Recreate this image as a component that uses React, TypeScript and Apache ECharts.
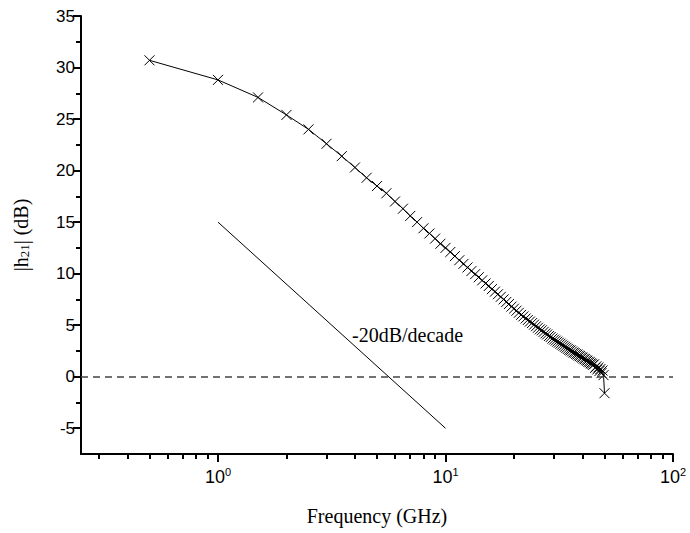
import React, { useEffect, useRef } from "react";
import * as echarts from "echarts";

const freqGHz = [
  0.5, 1.0, 1.5, 2.0, 2.5, 3.0, 3.5, 4.0, 4.5, 5.0,
  5.5, 6.0, 6.5, 7.0, 7.5, 8.0, 8.5, 9.0, 9.5, 10.0,
  10.5, 11.0, 11.5, 12.0, 12.5, 13.0, 13.5, 14.0, 14.5, 15.0,
  15.5, 16.0, 16.5, 17.0, 17.5, 18.0, 18.5, 19.0, 19.5, 20.0,
  20.5, 21.0, 21.5, 22.0, 22.5, 23.0, 23.5, 24.0, 24.5, 25.0,
  25.5, 26.0, 26.5, 27.0, 27.5, 28.0, 28.5, 29.0, 29.5, 30.0,
  30.5, 31.0, 31.5, 32.0, 32.5, 33.0, 33.5, 34.0, 34.5, 35.0,
  35.5, 36.0, 36.5, 37.0, 37.5, 38.0, 38.5, 39.0, 39.5, 40.0,
  40.5, 41.0, 41.5, 42.0, 42.5, 43.0, 43.5, 44.0, 44.5, 45.0,
  45.5, 46.0, 46.5, 47.0, 47.5, 48.0, 48.5, 49.0, 49.5, 50.0,
];

const h21dB = [
  30.7, 28.8, 27.1, 25.4, 24.0, 22.6, 21.4, 20.3, 19.3, 18.5,
  17.8, 17.0, 16.3, 15.6, 15.0, 14.4, 13.9, 13.4, 12.9, 12.5,
  12.1, 11.7, 11.3, 10.95, 10.6, 10.25, 9.95, 9.65, 9.35, 9.05,
  8.8, 8.5, 8.25, 8.0, 7.75, 7.5, 7.25, 7.05, 6.8, 6.6,
  6.4, 6.2, 6.0, 5.85, 5.65, 5.5, 5.35, 5.2, 5.05, 4.9,
  4.75, 4.6, 4.5, 4.35, 4.2, 4.1, 3.95, 3.85, 3.7, 3.6,
  3.5, 3.4, 3.3, 3.2, 3.1, 3.0, 2.9, 2.8, 2.7, 2.6,
  2.55, 2.45, 2.35, 2.3, 2.2, 2.15, 2.05, 2.0, 1.9, 1.85,
  1.75, 1.7, 1.6, 1.55, 1.45, 1.4, 1.3, 1.25, 1.15, 1.2,
  0.85, 1.0, 0.7, 0.9, 0.55, 0.75, 0.35, 0.6, 0.15, -1.6,
];

// -20 dB/decade reference line endpoints
const slopeFreq = [1, 10];
const slopeDB = [15, -5];

const xMajorTicks = [1, 10, 100];
const xMinorTicks = [0.3, 0.4, 0.5, 0.6, 0.7, 0.8, 0.9, 2, 3, 4, 5, 6, 7, 8, 9, 20, 30, 40, 50, 60, 70, 80, 90];
const yMajorTicks = [-5, 0, 5, 10, 15, 20, 25, 30, 35];
const yMinorTicks = [-2.5, 2.5, 7.5, 12.5, 17.5, 22.5, 27.5, 32.5];

const X_MIN = 0.25;
const X_MAX = 100;
const Y_MIN = -7.5;
const Y_MAX = 35;

const SANS = "'Liberation Sans', Arial, sans-serif";
const SERIF = "'Liberation Serif', 'Times New Roman', serif";

export default function App() {
  const ref = useRef<HTMLDivElement>(null);

  useEffect(() => {
    if (!ref.current) return;
    const chart = echarts.init(ref.current, undefined, { renderer: "svg" });
    const axisLine = { show: true, onZero: false, lineStyle: { color: "#000", width: 2 } };

    const option: any = {
      animation: false,
      backgroundColor: "#fff",
      grid: { left: 81, right: 17, top: 16, bottom: 79 },
      xAxis: [
        {
          type: "log",
          logBase: 10,
          min: X_MIN,
          max: X_MAX,
          position: "bottom",
          name: "Frequency (GHz)",
          nameLocation: "middle",
          nameGap: 52,
          nameTextStyle: { fontFamily: SERIF, fontSize: 20, color: "#000" },
          axisLine,
          axisTick: { show: true, inside: false, length: 8, customValues: xMajorTicks, lineStyle: { color: "#000", width: 2 } },
          axisLabel: {
            customValues: xMajorTicks,
            margin: 12,
            formatter: (v: number) => "{b|10}{sup|" + Math.round(Math.log10(v)) + "}",
            rich: {
              b: { fontFamily: SANS, fontSize: 18, color: "#000" },
              sup: { fontFamily: SANS, fontSize: 11, color: "#000", verticalAlign: "top", padding: [0, 0, 10, 0] },
            },
          },
          splitLine: { show: false },
        },
        {
          type: "log",
          logBase: 10,
          min: X_MIN,
          max: X_MAX,
          position: "bottom",
          axisLine: { show: false, onZero: false },
          axisTick: { show: true, length: 5, customValues: xMinorTicks, lineStyle: { color: "#000", width: 2 } },
          axisLabel: { show: false },
          splitLine: { show: false },
        },
      ],
      yAxis: [
        {
          type: "value",
          min: Y_MIN,
          max: Y_MAX,
          position: "left",
          name: "|h{sub|21}| (dB)",
          nameLocation: "middle",
          nameGap: 50,
          nameTextStyle: {
            fontFamily: SERIF,
            fontSize: 20,
            color: "#000",
            rich: { sub: { fontFamily: SERIF, fontSize: 13, color: "#000", verticalAlign: "bottom", padding: [8, 0, 0, 0] } },
          },
          axisLine,
          axisTick: { show: true, length: 8, customValues: yMajorTicks, lineStyle: { color: "#000", width: 2 } },
          axisLabel: { customValues: yMajorTicks, margin: 6, fontFamily: SANS, fontSize: 17, color: "#000" },
          splitLine: { show: false },
        },
        {
          type: "value",
          min: Y_MIN,
          max: Y_MAX,
          position: "left",
          axisLine: { show: false, onZero: false },
          axisTick: { show: true, length: 5, customValues: yMinorTicks, lineStyle: { color: "#000", width: 2 } },
          axisLabel: { show: false },
          splitLine: { show: false },
        },
      ],
      series: [
        {
          type: "line",
          xAxisIndex: 0,
          yAxisIndex: 0,
          data: freqGHz.map((f, i) => [f, h21dB[i]]),
          symbol: "path://M0,0L10,10M10,0L0,10",
          symbolSize: 10,
          showSymbol: true,
          itemStyle: { color: "rgba(0,0,0,0)", borderColor: "#000", borderWidth: 1 },
          lineStyle: { color: "#000", width: 1 },
          z: 3,
          markLine: {
            silent: true,
            symbol: "none",
            label: { show: false },
            lineStyle: { color: "#444", type: [7, 5], width: 1.5 },
            data: [{ yAxis: 0 }],
          },
        },
        {
          type: "line",
          xAxisIndex: 0,
          yAxisIndex: 0,
          data: slopeFreq.map((f, i) => [f, slopeDB[i]]),
          symbol: "none",
          lineStyle: { color: "#000", width: 1 },
        },
      ],
      graphic: [
        {
          type: "text",
          left: 352,
          top: 325,
          style: { text: "-20dB/decade", font: "20px " + SERIF, fill: "#000" },
        },
      ],
    };
    chart.setOption(option);
    return () => chart.dispose();
  }, []);

  return <div ref={ref} style={{ position: "absolute", left: 0, top: 0, width: 690, height: 533 }} />;
}
